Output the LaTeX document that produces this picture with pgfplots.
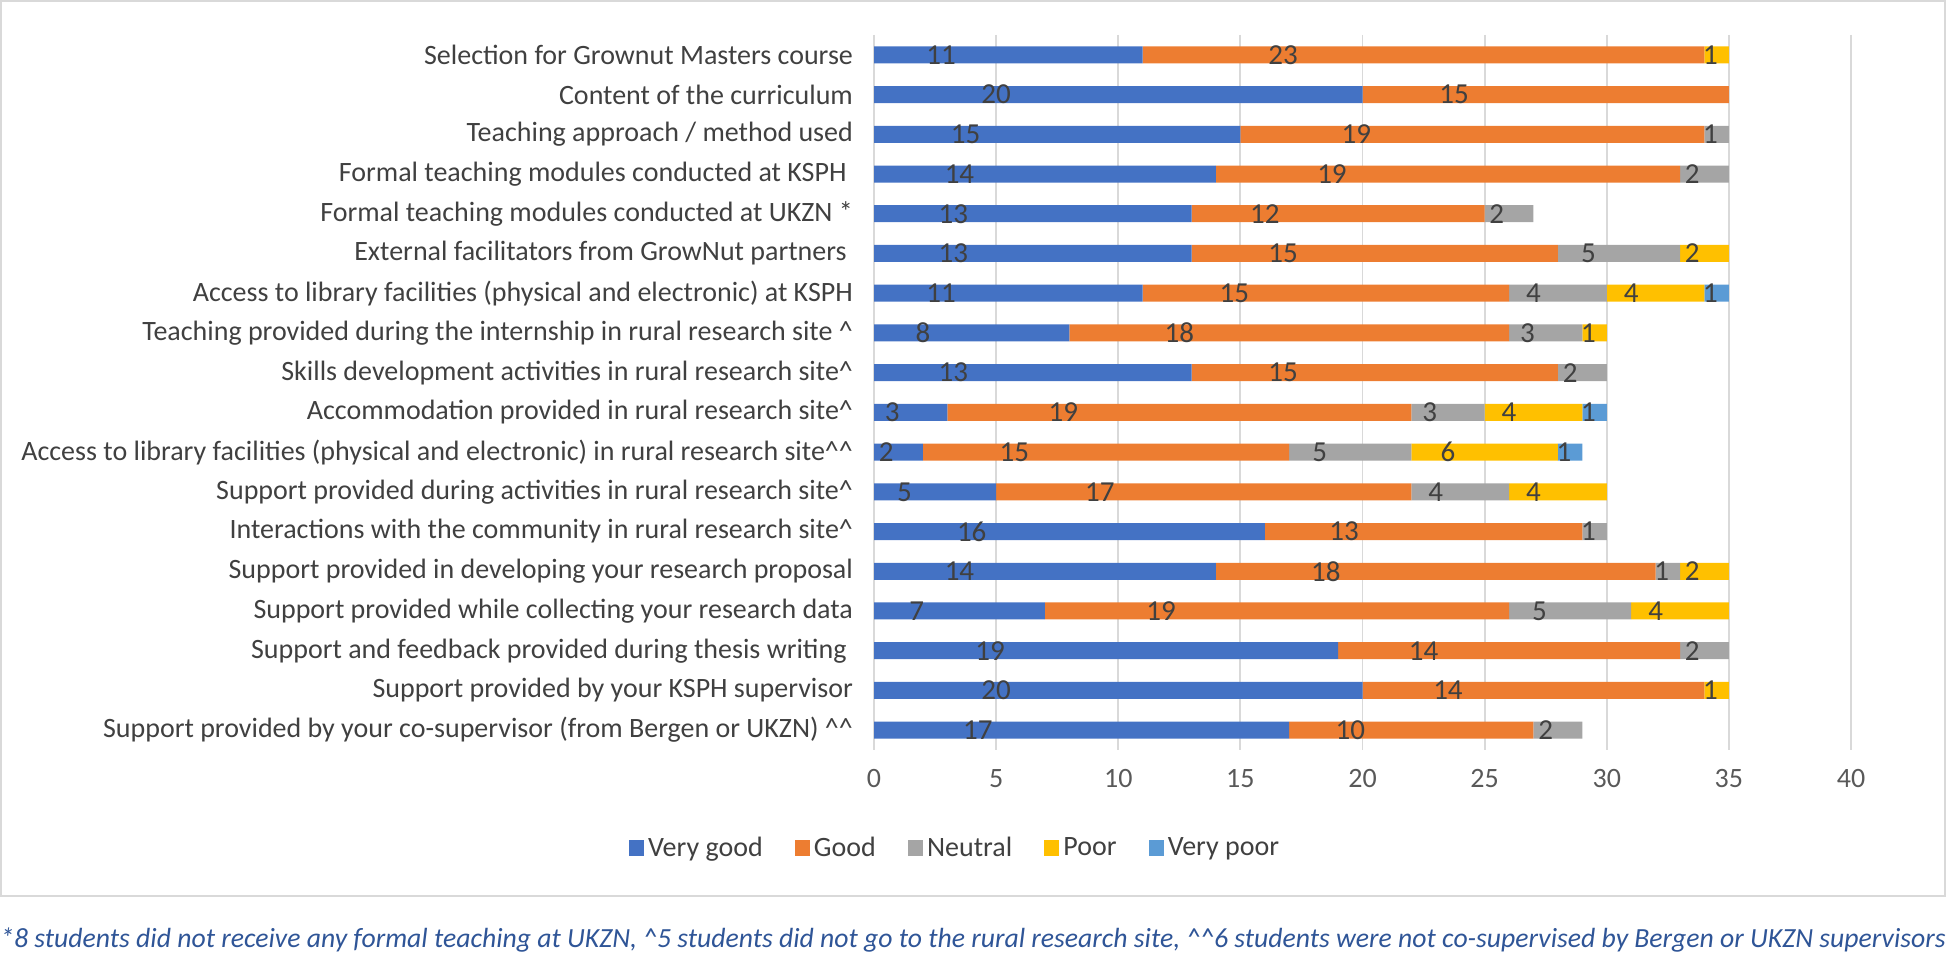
\documentclass[border=0pt]{standalone}
\usepackage{pgfplots}
\usepackage{pgfplotstable}
\usepackage{fontspec}
\setmainfont{Carlito}
\pgfplotsset{compat=1.18}
\definecolor{cvg}{HTML}{4472C4}
\definecolor{cg}{HTML}{ED7D31}
\definecolor{cn}{HTML}{A5A5A5}
\definecolor{cp}{HTML}{FFC000}
\definecolor{cvp}{HTML}{5B9BD5}
\definecolor{txt}{HTML}{404040}
\definecolor{tickc}{HTML}{595959}
\definecolor{gridc}{HTML}{D9D9D9}
\definecolor{note}{HTML}{2F5597}
\pgfplotstableread{
idx vg g n p vp
0 11 23 0 1 0
1 20 15 0 0 0
2 15 19 1 0 0
3 14 19 2 0 0
4 13 12 2 0 0
5 13 15 5 2 0
6 11 15 4 4 1
7 8 18 3 1 0
8 13 15 2 0 0
9 3 19 3 4 1
10 2 15 5 6 1
11 5 17 4 4 0
12 16 13 1 0 0
13 14 18 1 2 0
14 7 19 5 4 0
15 19 14 2 0 0
16 20 14 0 1 0
17 17 10 2 0 0
}\data
\pgfplotsset{segstyle/.style={fill=#1, draw=none}}
\begin{document}
\begin{tikzpicture}
\path[use as bounding box] (0,0) rectangle (973.5pt,486pt);
\draw[gridc, line width=1pt] (0.5pt,485.5pt) rectangle (972.5pt,38pt);
\begin{axis}[
  at={(437pt,111pt)}, anchor=south west,
  scale only axis, width=488.5pt, height=357.5pt,
  xbar stacked, bar width=8.5pt,
  xmin=0, xmax=40, ymin=-0.5, ymax=17.5, y dir=reverse,
  xtick={0,5,...,40},
  ytick={0,...,17},
  yticklabels={
    Selection for Grownut Masters course,
    Content of the curriculum,
    Teaching approach / method used,
    Formal teaching modules conducted at KSPH\ \ ,
    Formal teaching modules conducted at UKZN *,
    External facilitators from GrowNut partners\ \ ,
    Access to library facilities (physical and electronic) at KSPH,
    Teaching provided during the internship in rural research site \textasciicircum,
    Skills development activities in rural research site\textasciicircum,
    Accommodation provided in rural research site\textasciicircum,
    Access to library facilities (physical and electronic) in rural research site\textasciicircum\textasciicircum,
    Support provided during activities in rural research site\textasciicircum,
    Interactions with the community in rural research site\textasciicircum,
    Support provided in developing your research proposal,
    Support provided while collecting your research data,
    Support and feedback provided during thesis writing\ \ ,
    Support provided by your KSPH supervisor,
    Support provided by your co-supervisor (from Bergen or UKZN) \textasciicircum\textasciicircum
  },
  /pgf/number format/assume math mode=true,
  major tick length=0pt,
  axis line style={draw=none},
  xmajorgrids, grid style={gridc, line width=0.9pt},
  yticklabel style={font=\fontsize{14}{16}\selectfont, text=txt, xshift=-7pt},
  xticklabel style={font=\fontsize{14}{16}\selectfont, text=tickc, yshift=-6pt},
  point meta=explicit,
  nodes near coords={\pgfmathfloatifflags{\pgfplotspointmeta}{0}{}{\pgfmathprintnumber{\pgfplotspointmeta}}},
  visualization depends on={rawx \as \seg},
  every node near coord/.append style={anchor=center, font=\fontsize{14.5}{16}\selectfont, text=txt, xshift={-\seg*3.053125pt}},
  legend style={at={(0.084,-0.137)}, anchor=center, draw=none, legend columns=5,
    font=\fontsize{14}{16}\selectfont, text=txt,
    /tikz/every even column/.append style={column sep=14pt}},
  legend image code/.code={\fill[#1] (0pt,-3.8pt) rectangle (7.6pt,3.8pt);},
]
\addplot[segstyle=cvg] table[x=vg,y=idx,meta=vg] {\data};
\addplot[segstyle=cg] table[x=g,y=idx,meta=g] {\data};
\addplot[segstyle=cn] table[x=n,y=idx,meta=n] {\data};
\addplot[segstyle=cp] table[x=p,y=idx,meta=p] {\data};
\addplot[segstyle=cvp] table[x=vp,y=idx,meta=vp] {\data};
\legend{Very good, Good, Neutral, Poor, Very poor}
\end{axis}
\node[anchor=west, inner sep=0pt, font=\itshape\fontsize{13.85}{16}\selectfont, text=note] at (0pt,16pt) {*8 students did not receive any formal teaching at UKZN, \textasciicircum5 students did not go to the rural research site, \textasciicircum\textasciicircum6 students were not co-supervised by Bergen or UKZN supervisors};
\end{tikzpicture}
\end{document}
